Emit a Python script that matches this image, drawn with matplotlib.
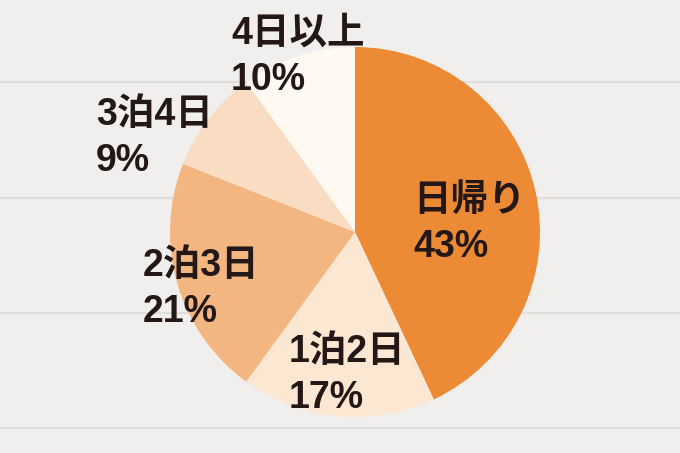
import matplotlib
matplotlib.use("Agg")
import matplotlib.pyplot as plt

categories = ["日帰り", "1泊2日", "2泊3日", "3泊4日", "4日以上"]
values = [43, 17, 21, 9, 10]
colors = ["#ED8A36", "#FCE7D3", "#F4B680", "#F9DCC1", "#FFF9F1"]
# label anchor (left x, vertical centre y) in pixel layout, y measured from top
label_pos = [(413, 224), (289, 375), (143, 289), (96, 138), (231, 57)]

plt.rcParams['font.family'] = ['Liberation Sans', 'Noto Sans CJK JP', 'DejaVu Sans']

W, H = 680, 453
fig = plt.figure(figsize=(W / 100, H / 100), dpi=100)
fig.patch.set_facecolor("#F0EFED")
ax = fig.add_axes([0, 0, 1, 1])
ax.set_xlim(0, W)
ax.set_ylim(0, H)
ax.set_aspect("equal")
ax.axis("off")

for yl in [82, 198, 313, 428]:
    ax.axhline(H - yl, color="#E0DFDC", lw=1.6, zorder=0)

ax.pie(values, colors=colors, startangle=90, counterclock=False,
       center=(355, H - 232), radius=185,
       wedgeprops=dict(linewidth=0), frame=True)
ax.set_xlim(0, W)
ax.set_ylim(0, H)
ax.axis("off")

for cat, v, (x, y) in zip(categories, values, label_pos):
    ax.text(x, H - y, f"{cat}\n{v}%", ha="left", va="center",
            fontsize=27, fontweight="bold", color="#231815",
            linespacing=1.38)

fig.savefig("out.png", dpi=100, facecolor=fig.get_facecolor())
